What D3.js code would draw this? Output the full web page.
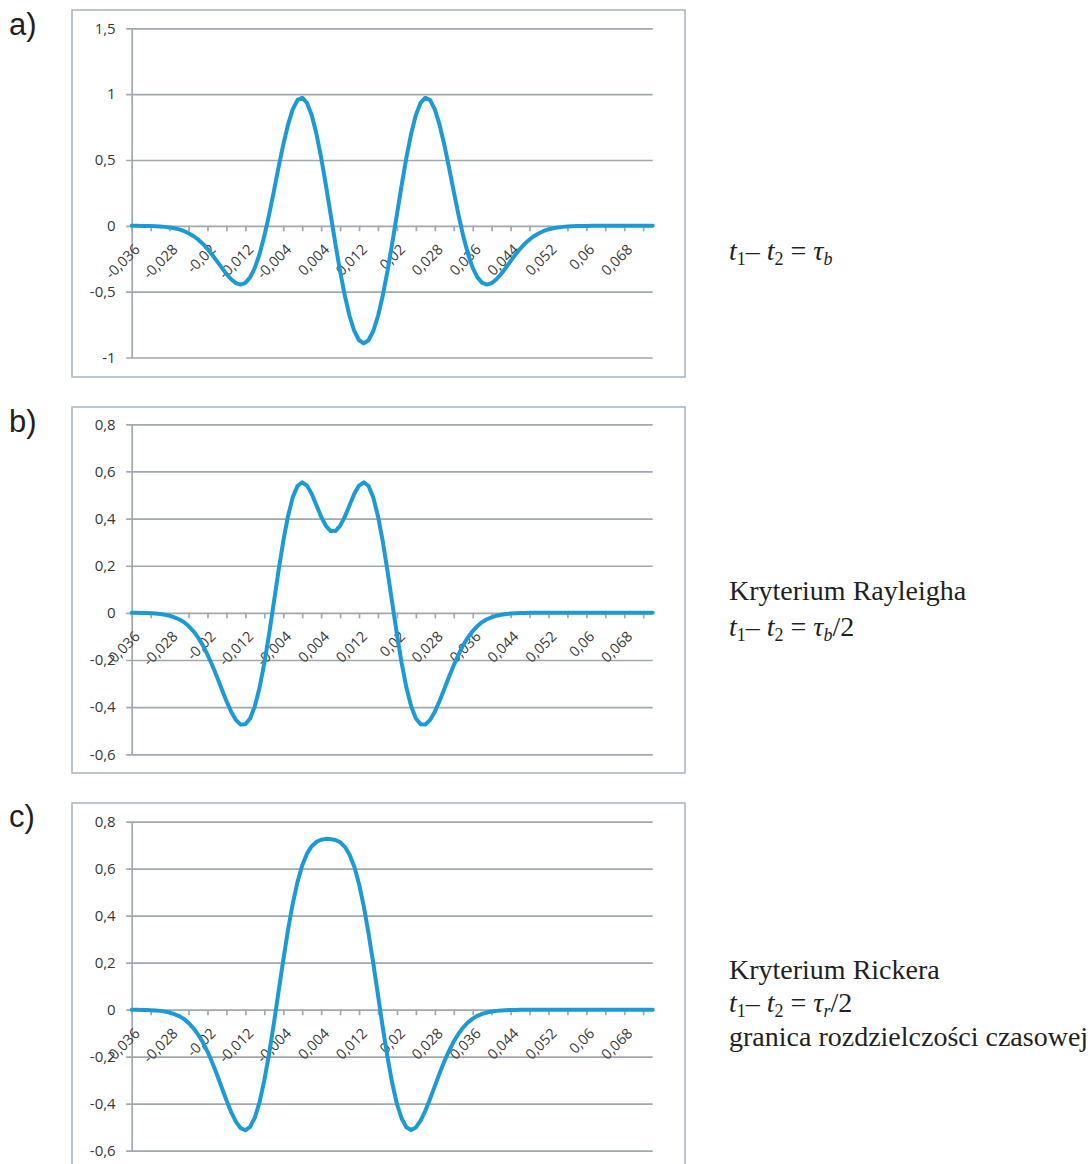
<!DOCTYPE html>
<html><head><meta charset="utf-8">
<script src="https://cdn.jsdelivr.net/npm/d3@7"></script>
<style>body{margin:0;background:#fff} svg{display:block}</style>
</head><body>
<svg id="chart" width="1091" height="1164"></svg>
<script>
// sample times (s): category axis, -0.036 .. 0.074 in 0.001 s steps
const sampleTimes = d3.range(-36, 75).map(v => v / 1000);

const xTickLabels = ["-0,036","-0,028","-0,02","-0,012","-0,004","0,004","0,012","0,02","0,028","0,036","0,044","0,052","0,06","0,068"];
const xLabelTimes = [-0.036,-0.028,-0.020,-0.012,-0.004,0.004,0.012,0.020,0.028,0.036,0.044,0.052,0.060,0.068];

const yTicksA = [-1, -0.5, 0, 0.5, 1, 1.5];
const yTicksBC = [-0.6, -0.4, -0.2, 0, 0.2, 0.4, 0.6, 0.8];

// a) t1 - t2 = tau_b
const seriesA = [
 0,0,-0.001,-0.001,-0.002,-0.003,-0.005,-0.008,-0.012,-0.019,
 -0.027,-0.039,-0.056,-0.077,-0.104,-0.136,-0.175,-0.220,-0.268,-0.318,
 -0.366,-0.406,-0.435,-0.446,-0.433,-0.392,-0.319,-0.214,-0.078,0.083,
 0.260,0.443,0.616,0.768,0.884,0.955,0.973,0.934,0.841,0.699,
 0.518,0.309,0.087,-0.135,-0.345,-0.531,-0.685,-0.799,-0.869,-0.893,
 -0.869,-0.799,-0.685,-0.531,-0.345,-0.135,0.087,0.309,0.518,0.699,
 0.841,0.934,0.973,0.955,0.884,0.768,0.616,0.443,0.260,0.083,
 -0.078,-0.214,-0.319,-0.392,-0.433,-0.446,-0.435,-0.406,-0.366,-0.318,
 -0.268,-0.220,-0.175,-0.136,-0.104,-0.077,-0.056,-0.039,-0.027,-0.019,
 -0.012,-0.008,-0.005,-0.003,-0.002,-0.001,-0.001,0,0,0,
 0,0,0,0,0,0,0,0,0,0,0
];
// b) Rayleigh criterion
const seriesB = [
 0,0,-0.001,-0.001,-0.002,-0.003,-0.005,-0.008,-0.012,-0.019,
 -0.027,-0.039,-0.056,-0.077,-0.104,-0.137,-0.177,-0.222,-0.271,-0.323,
 -0.374,-0.419,-0.454,-0.474,-0.473,-0.448,-0.396,-0.317,-0.213,-0.091,
 0.043,0.178,0.304,0.410,0.490,0.538,0.554,0.540,0.505,0.457,
 0.408,0.369,0.347,0.347,0.369,0.408,0.457,0.505,0.540,0.554,
 0.538,0.490,0.410,0.304,0.178,0.043,-0.091,-0.213,-0.317,-0.396,
 -0.448,-0.473,-0.474,-0.454,-0.419,-0.374,-0.323,-0.271,-0.222,-0.177,
 -0.137,-0.104,-0.077,-0.056,-0.039,-0.027,-0.019,-0.012,-0.008,-0.005,
 -0.003,-0.002,-0.001,-0.001,0,0,0,0,0,0,
 0,0,0,0,0,0,0,0,0,0,
 0,0,0,0,0,0,0,0,0,0,0
];
// c) Ricker criterion
const seriesC = [
 0,0,-0.001,-0.001,-0.002,-0.003,-0.005,-0.008,-0.012,-0.019,
 -0.027,-0.039,-0.056,-0.078,-0.105,-0.138,-0.178,-0.225,-0.276,-0.331,
 -0.385,-0.436,-0.476,-0.504,-0.513,-0.499,-0.459,-0.393,-0.301,-0.189,
 -0.061,0.076,0.211,0.339,0.451,0.543,0.614,0.664,0.696,0.714,
 0.723,0.727,0.726,0.722,0.713,0.693,0.659,0.608,0.535,0.440,
 0.326,0.198,0.062,-0.074,-0.201,-0.312,-0.401,-0.463,-0.500,-0.512,
 -0.501,-0.472,-0.430,-0.379,-0.325,-0.271,-0.220,-0.175,-0.135,-0.102,
 -0.075,-0.054,-0.038,-0.026,-0.018,-0.012,-0.008,-0.005,-0.003,-0.002,
 -0.001,-0.001,0,0,0,0,0,0,0,0,
 0,0,0,0,0,0,0,0,0,0,
 0,0,0,0,0,0,0,0,0,0,0
];

const panels = [
  {letter:"a)", letterY:35, series:seriesA, ticks:yTicksA, domain:[-1,1.5],
   frame:[72,10,613,367], plot:[131.7,652.7,28.3,357.5]},
  {letter:"b)", letterY:432, series:seriesB, ticks:yTicksBC, domain:[-0.6,0.8],
   frame:[72,407,613,366], plot:[131.7,652.7,424.3,754.3]},
  {letter:"c)", letterY:827, series:seriesC, ticks:yTicksBC, domain:[-0.6,0.8],
   frame:[72,803,613,380], plot:[131.7,652.7,821.7,1150.7]}
];

const svg = d3.select("#chart");
const gridColor = "#a0a8af";
const labelColor = "#383838";
const axisFont = '"Open Sans", sans-serif';
const fmt = v => String(v).replace(".", ",");
const tickMarkTimes = d3.range(-36, 75, 4).map(v => v / 1000);

panels.forEach(p => {
  const [L, R, T, B] = p.plot;
  const x = d3.scaleLinear().domain([sampleTimes[0], sampleTimes[sampleTimes.length-1]]).range([L, R]);
  const y = d3.scaleLinear().domain(p.domain).range([B, T]);
  const g = svg.append("g");

  g.append("rect").attr("x", p.frame[0]).attr("y", p.frame[1])
    .attr("width", p.frame[2]).attr("height", p.frame[3])
    .attr("fill", "none").attr("stroke", "#aab7c1").attr("stroke-width", 1.6);

  g.append("text").attr("x", 9).attr("y", p.letterY)
    .attr("font-family", '"Liberation Sans", Arial, sans-serif').attr("font-size", 31)
    .attr("fill", "#231f20").text(p.letter);

  // y axis + gridlines
  const ya = g.append("g").attr("transform", `translate(${L},0)`)
    .call(d3.axisLeft(y).tickValues(p.ticks).tickFormat(fmt)
      .tickSize(-(R - L)).tickSizeOuter(0).tickPadding(16));
  ya.attr("font-size", null).attr("font-family", null);
  ya.select(".domain").attr("stroke", gridColor).attr("stroke-width", 1.7);
  ya.selectAll(".tick line").attr("x1", -5.5).attr("stroke", gridColor).attr("stroke-width", 1.7);
  ya.selectAll(".tick text").attr("fill", labelColor)
    .style("font-family", axisFont).style("font-size", "15px");

  // x tick marks on zero line
  const xm = g.append("g").attr("transform", `translate(0,${y(0)})`)
    .call(d3.axisBottom(x).tickValues(tickMarkTimes).tickFormat("").tickSize(5.5).tickSizeOuter(0));
  xm.select(".domain").remove();
  xm.selectAll(".tick line").attr("stroke", gridColor).attr("stroke-width", 1.7);

  // x labels rotated
  const xl = g.append("g").attr("transform", `translate(0,${y(0)})`)
    .call(d3.axisBottom(x).tickValues(xLabelTimes).tickFormat((d, i) => xTickLabels[i]).tickSize(0));
  xl.attr("font-size", null).attr("font-family", null);
  xl.select(".domain").remove();
  xl.selectAll(".tick text")
    .attr("x", 0).attr("y", 0).attr("dy", "0.35em")
    .attr("transform", "translate(5,21) rotate(-45)")
    .style("text-anchor", "end")
    .attr("fill", labelColor)
    .style("font-family", axisFont).style("font-size", "14.5px");

  // series line
  const line = d3.line().x((d, i) => x(sampleTimes[i])).y(d => y(d));
  g.append("path").datum(p.series).attr("d", line)
    .attr("fill", "none").attr("stroke", "#1c9ad6").attr("stroke-width", 4)
    .attr("stroke-linejoin", "round").attr("stroke-linecap", "round");
});

// right-hand annotations
const serif = '"Liberation Serif", "Times New Roman", serif';
function plainLine(txt, yy) {
  svg.append("text").attr("x", 729).attr("y", yy).attr("font-family", serif)
    .attr("font-size", 28).attr("fill", "#231f20").text(txt);
}
function formula(yy, sub, suffix) {
  const t = svg.append("text").attr("x", 729).attr("y", yy).attr("font-family", serif)
    .attr("font-size", 28).attr("fill", "#231f20");
  t.append("tspan").attr("font-style", "italic").text("t");
  t.append("tspan").attr("font-size", 18).attr("dy", 5).text("1");
  t.append("tspan").attr("dy", -5).text("\u2013 ");
  t.append("tspan").attr("font-style", "italic").text("t");
  t.append("tspan").attr("font-size", 18).attr("dy", 5).text("2");
  t.append("tspan").attr("dy", -5).text(" = ");
  t.append("tspan").attr("font-style", "italic").text("\u03c4");
  t.append("tspan").attr("font-style", "italic").attr("font-size", 18).attr("dy", 5).text(sub);
  if (suffix) t.append("tspan").attr("dy", -5).text(suffix);
}
formula(260, "b", "");
plainLine("Kryterium Rayleigha", 600);
formula(636, "b", "/2");
plainLine("Kryterium Rickera", 979);
formula(1012, "r", "/2");
plainLine("granica rozdzielczości czasowej", 1046);
</script>
</body></html>
